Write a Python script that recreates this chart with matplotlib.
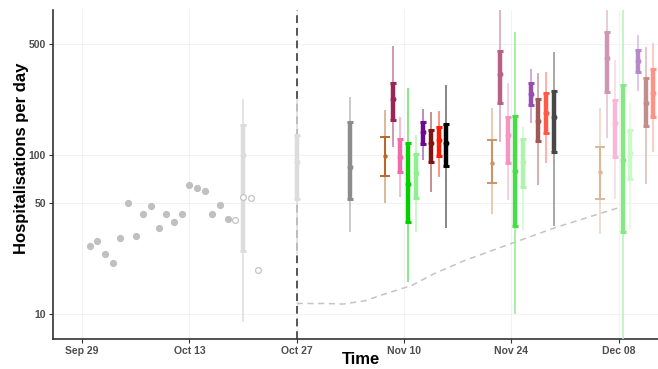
"""
Observed daily hospitalisations with forecast intervals from several models,
on a log scale.
"""

import matplotlib

matplotlib.use("Agg")
import matplotlib.dates as mdates
import matplotlib.pyplot as plt
import numpy as np
import pandas as pd
from matplotlib.colors import to_rgb
from matplotlib.ticker import NullLocator

# observed counts (filled) and the still-incomplete recent days (open)
obs_dates = pd.date_range("2020-09-30", "2020-10-18")
obs_values = [27, 29, 24, 21, 30, 50, 31, 43, 48, 35, 43, 38, 43, 65, 62, 60, 43, 49, 40]
recent_dates = pd.to_datetime(["2020-10-19", "2020-10-20", "2020-10-21", "2020-10-22"])
recent_values = [39, 55, 54, 19]

# grey reference intervals
ref_dates = pd.to_datetime(["2020-10-20", "2020-10-27", "2020-11-03"])
ref_lo95 = [9, 24, 33]
ref_lo50 = [25, 53, 53]
ref_median = [100, 91, 84]
ref_hi50 = [155, 134, 161]
ref_hi95 = [227, 227, 233]
ref_colors = ["#dcdcdc", "#dcdcdc", "#8c8c8c"]

# dashed baseline curve
trend_dates = pd.to_datetime(["2020-10-27", "2020-10-31", "2020-11-02", "2020-11-05",
                              "2020-11-07", "2020-11-11", "2020-11-14", "2020-11-18",
                              "2020-11-24", "2020-11-30", "2020-12-02", "2020-12-08"])
trend_values = [11.7, 11.7, 11.6, 12.2, 13.2, 15.2, 18.1, 21.9, 27.9, 35.5, 38.0, 46.9]

# model forecasts, one row per forecast week, one column per model
forecast_centres = pd.to_datetime(["2020-11-11 12:00", "2020-11-25 12:00", "2020-12-09 12:00"])
model_colors = ["#b8692a", "#9b2458", "#f26aab", "#00d000", "#8ef08e",
                "#6a0a8f", "#7e1414", "#ff1a00", "#000000"]
fc_median = [[99, 226, 98, 66, 77, 140, 120, 124, 119],
             [90, 323, 134, 80, 91, 241, 165, 185, 173],
             [78, 406, 160, 93, 103, 391, 212, 245, np.nan]]
fc_lo50 = [[74, 166, 79, 38, 54, 118, 91, 99, 85],
           [67, 212, 90, 36, 63, 206, 123, 138, 105],
           [53, 251, 97, 33, 71, 332, 153, 173, np.nan]]
fc_hi50 = [[131, 286, 126, 119, 102, 162, 144, 151, 157],
           [124, 454, 173, 176, 126, 286, 225, 245, 254],
           [113, 598, 224, 276, 145, 459, 307, 347, np.nan]]
fc_lo95 = [[50, 112, 55, 16, 33, 94, 59, 73, 35],
           [43, 121, 52, 10, 34, 160, 65, 90, 36],
           [32, 128, 53, 5, 34, 254, 66, 105, np.nan]]
fc_hi95 = [[192, 486, 173, 263, 134, 194, 187, 190, 276],
           [197, 1000, 283, 593, 151, 347, 330, 335, 443],
           [197, 1000, 397, 1000, 212, 570, 477, 505, np.nan]]
week_fade = [1.0, 0.72, 0.48]

x_ticks = pd.to_datetime(["2020-09-29", "2020-10-13", "2020-10-27",
                          "2020-11-10", "2020-11-24", "2020-12-08"])
y_ticks = [10, 50, 100, 500]

FONT = "Liberation Sans"


def fade(color, amount):
    """Blend a colour towards white so overlapping segments stay flat."""
    r, g, b = to_rgb(color)
    return (1 - amount * (1 - r), 1 - amount * (1 - g), 1 - amount * (1 - b))


def interval(ax, x, lo95, lo50, med, hi50, hi95, color, capped=False, zorder=3):
    thin = fade(color, 0.6) if color != "#dcdcdc" else color
    ax.plot([x, x], [lo95, hi95], color=thin, lw=1.1, solid_capstyle="butt", zorder=zorder)
    if capped:
        ax.plot([x, x], [lo50, hi50], color=color, lw=1.5, zorder=zorder)
        ax.plot([x, x], [lo50, hi50], ls="none", marker="_", ms=6.5, mew=1.4,
                color=color, zorder=zorder)
        ax.plot(x, med, marker="o", ms=2.2, color=color, zorder=zorder)
    else:
        ax.plot([x, x], [lo50, hi50], color=color, lw=3.2, solid_capstyle="butt", zorder=zorder)
        ax.plot([x, x], [lo50, hi50], ls="none", marker="_", ms=4.5, mew=2.2,
                color=color, zorder=zorder)
        ax.plot(x, med, ls="none", marker="o", ms=3.2, color=color, zorder=zorder)


fig = plt.figure(figsize=(6.58, 3.69), dpi=100)
ax = fig.add_axes([0.0805, 0.0813, 0.9195, 0.892])
ax.set_yscale("log")

origin = pd.Timestamp("2020-09-29")
ax.set_xlim(mdates.date2num(origin - pd.Timedelta(days=3.78)),
            mdates.date2num(origin + pd.Timedelta(days=75.1)))
ax.set_ylim(7.0, 820)

ax.grid(True, color="#f0f0f0", lw=0.6)
ax.set_axisbelow(True)

ax.axvline(mdates.date2num(pd.Timestamp("2020-10-27")), color="#555555", lw=1.4,
           dashes=(4, 2.5), zorder=1.5)
ax.plot(trend_dates, trend_values, color="#c4c4c4", lw=1.1, dashes=(4, 3), zorder=2)

ax.plot(obs_dates, obs_values, ls="none", marker="o", ms=4.2, color="#c0c0c0",
        mec="#c0c0c0", zorder=3)
ax.plot(recent_dates, recent_values, ls="none", marker="o", ms=4.2, mfc="white",
        mec="#c4c4c4", mew=0.9, zorder=3)

for d, lo95, lo50, med, hi50, hi95, c in zip(ref_dates, ref_lo95, ref_lo50, ref_median,
                                             ref_hi50, ref_hi95, ref_colors):
    interval(ax, mdates.date2num(d), lo95, lo50, med, hi50, hi95, c, zorder=2.5)

for w, centre in enumerate(forecast_centres):
    for m, color in enumerate(model_colors):
        if np.isnan(fc_median[w][m]):
            continue
        x = mdates.date2num(centre + pd.Timedelta(days=m - 4))
        interval(ax, x, fc_lo95[w][m], fc_lo50[w][m], fc_median[w][m],
                 fc_hi50[w][m], fc_hi95[w][m], fade(color, week_fade[w]),
                 capped=(m == 0), zorder=3 + m * 0.01)

ax.set_xticks(mdates.date2num(x_ticks))
ax.set_xticklabels([d.strftime("%b %d") for d in x_ticks], fontweight="bold", family=FONT)
ax.set_yticks(y_ticks)
ax.set_yticklabels([str(v) for v in y_ticks], fontweight="bold", family=FONT)
ax.yaxis.set_minor_locator(NullLocator())
ax.tick_params(direction="out", length=3, width=0.8, color="#333333",
               labelcolor="#4d4d4d", labelsize=7.5, pad=2)

for side in ("top", "right"):
    ax.spines[side].set_visible(False)
for side in ("left", "bottom"):
    ax.spines[side].set_color("#333333")
    ax.spines[side].set_linewidth(1.2)

ax.set_ylabel("Hospitalisations per day", fontsize=12, fontweight="bold", family=FONT)
ax.yaxis.set_label_coords(-0.040, 0.55)
ax.set_xlabel("Time", fontsize=12, fontweight="bold", family=FONT)
ax.xaxis.set_label_coords(0.509, -0.040)

fig.savefig("out.png", dpi=100)
